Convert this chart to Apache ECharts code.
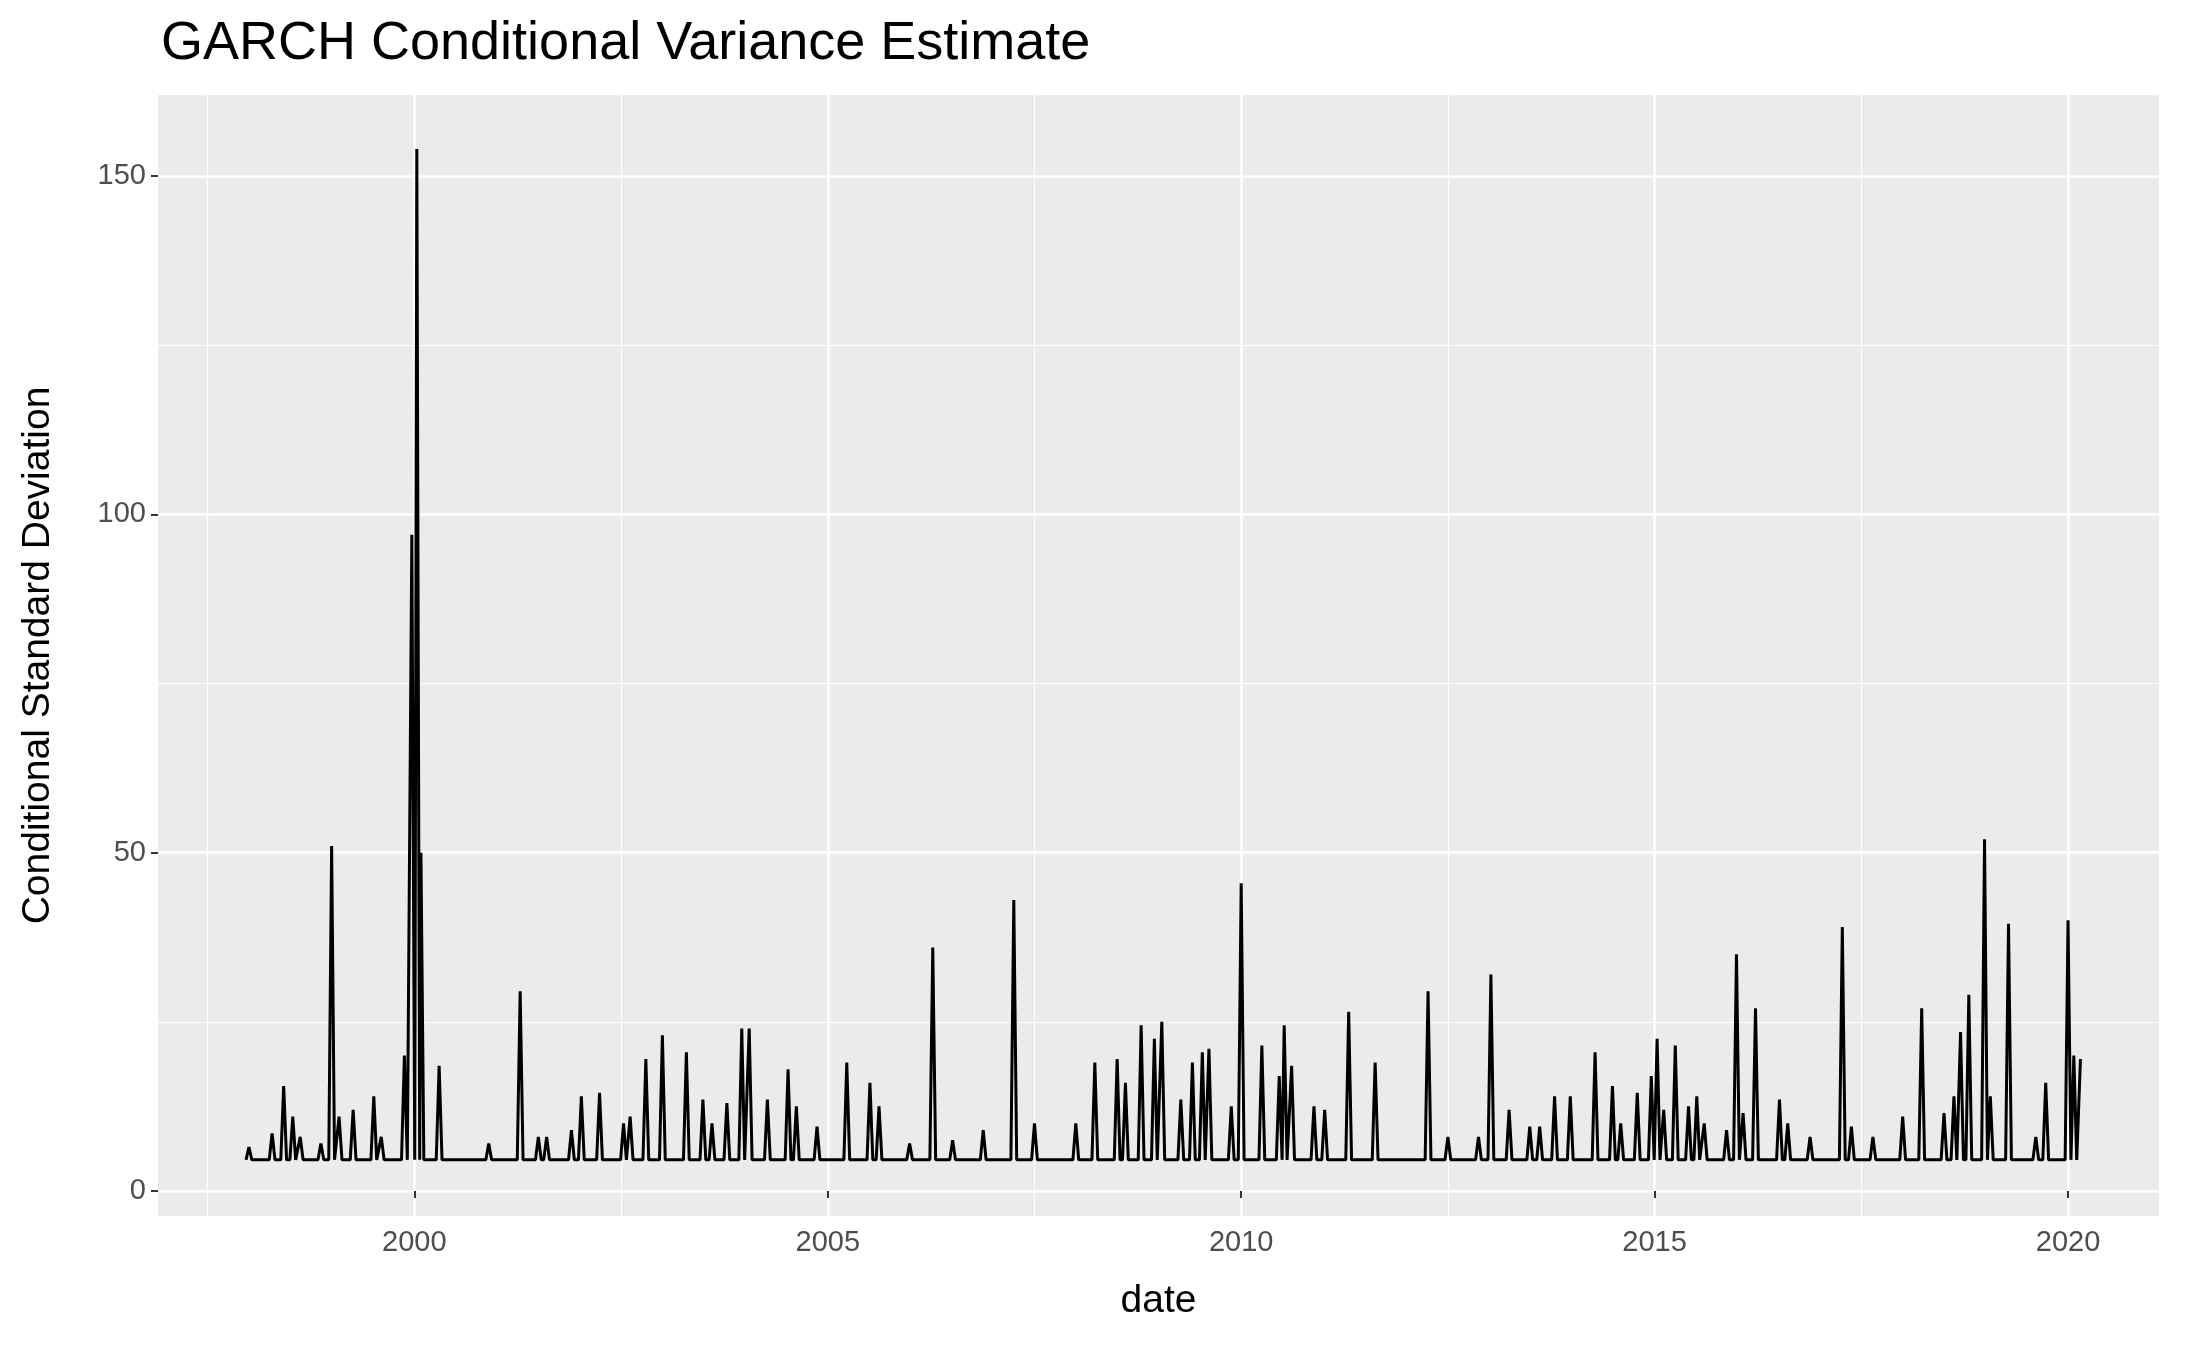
<!DOCTYPE html>
<html>
<head>
<meta charset="utf-8">
<title>GARCH</title>
<script src="https://cdn.jsdelivr.net/npm/echarts@6/dist/echarts.min.js"></script>
<style>body{margin:0;background:#fff}</style>
</head>
<body>
<div id="main" style="width:2187px;height:1350px;"></div>
<script>
// spike dates (decimal years) and spike heights
var spikeYears = [1998.0,1998.28,1998.42,1998.53,1998.62,1998.87,1999.0,1999.09,1999.26,1999.51,1999.6,1999.88,1999.97,2000.03,2000.08,2000.3,2000.9,2001.28,2001.5,2001.6,2001.9,2002.02,2002.24,2002.53,2002.61,2002.8,2003.0,2003.29,2003.49,2003.6,2003.78,2003.96,2004.05,2004.27,2004.52,2004.62,2004.87,2005.23,2005.51,2005.62,2005.99,2006.27,2006.51,2006.88,2007.25,2007.5,2008.0,2008.23,2008.5,2008.6,2008.79,2008.95,2009.04,2009.27,2009.41,2009.53,2009.61,2009.88,2010.0,2010.25,2010.46,2010.52,2010.61,2010.88,2011.01,2011.3,2011.62,2012.26,2012.5,2012.87,2013.02,2013.24,2013.49,2013.61,2013.79,2013.98,2014.28,2014.49,2014.59,2014.79,2014.96,2015.03,2015.11,2015.25,2015.41,2015.51,2015.6,2015.87,2015.99,2016.07,2016.22,2016.51,2016.61,2016.88,2017.27,2017.38,2017.64,2018.0,2018.23,2018.5,2018.62,2018.7,2018.8,2018.99,2019.06,2019.28,2019.61,2019.73,2020.0,2020.07];
var spikeValues = [6.5,8.5,15.5,11,8,7,51,11,12,14,8,20,97,154,50,18.5,7,29.5,8,8,9,14,14.5,10,11,19.5,23,20.5,13.5,10,13,24,24,13.5,18,12.5,9.5,19,16,12.5,7,36,7.5,9,43,10,10,19,19.5,16,24.5,22.5,25,13.5,19,20.5,21,12.5,45.5,21.5,17,24.5,18.5,12.5,12,26.5,19,29.5,8,8,32,12,9.5,9.5,14,14,20.5,15.5,10,14.5,17,22.5,12,21.5,12.5,14,10,9,35,11.5,27,13.5,10,8,39,9.5,8,11,27,11.5,14,23.5,29,52,14,39.5,8,16,40,20];
var baseline = 4.6;
var majorY = [0, 50, 100, 150];
var minorY = [25, 75, 125];
var majorX = [2000, 2005, 2010, 2015, 2020];
var minorX = [1997.5, 2002.5, 2007.5, 2012.5, 2017.5];

var data = [];
for (var i = 0; i < spikeYears.length; i++) {
    data.push([spikeYears[i] - 0.035, baseline]);
    data.push([spikeYears[i], spikeValues[i]]);
    data.push([spikeYears[i] + 0.035, baseline]);
}
data.push([2020.15, 19.5]);

var gridLines = [];
majorY.forEach(function(v){ gridLines.push({yAxis: v, lineStyle:{width:2.5}}); });
minorY.forEach(function(v){ gridLines.push({yAxis: v, lineStyle:{width:1.2}}); });
majorX.forEach(function(v){ gridLines.push({xAxis: v, lineStyle:{width:2.5}}); });
minorX.forEach(function(v){ gridLines.push({xAxis: v, lineStyle:{width:1.2}}); });

var myChart = echarts.init(document.getElementById('main'));
var font = 'Liberation Sans, Arial, sans-serif';
var option = {
    animation: false,
    textStyle: {fontFamily: font},
    title: {text: 'GARCH Conditional Variance Estimate', left: 156, top: 12,
        textStyle: {fontSize: 54, fontWeight: 'normal', color: '#000', fontFamily: font}},
    grid: {left: 158, right: 28, top: 95, bottom: 134, backgroundColor: '#ebebeb', show: true, borderWidth: 0},
    xAxis: {
        type: 'value', min: 1996.9, max: 2021.1, name: 'date', nameLocation: 'middle', nameGap: 66,
        nameTextStyle: {fontSize: 39, color: '#000'},
        splitLine: {show: false}, axisLine: {show: false},
        axisTick: {customValues: majorX, length: 7, lineStyle: {color: '#333', width: 2}},
        axisLabel: {customValues: majorX, fontSize: 29, color: '#4d4d4d', margin: 12,
            formatter: function(v){ return String(v); }}
    },
    yAxis: {
        type: 'value', min: -3.7, max: 162, name: 'Conditional Standard Deviation', nameLocation: 'middle', nameGap: 100,
        nameTextStyle: {fontSize: 39, color: '#000'},
        splitLine: {show: false}, axisLine: {show: false},
        axisTick: {customValues: majorY, length: 7, lineStyle: {color: '#333', width: 2}},
        axisLabel: {customValues: majorY, fontSize: 29, color: '#4d4d4d', margin: 12,
            formatter: function(v){ return String(v); }}
    },
    series: [{
        type: 'line', data: data, showSymbol: false,
        lineStyle: {color: '#000', width: 3},
        markLine: {silent: true, symbol: 'none', label: {show: false}, z: 0,
            lineStyle: {color: '#fff', type: 'solid'}, data: gridLines}
    }]
};
myChart.setOption(option);
</script>
</body>
</html>
